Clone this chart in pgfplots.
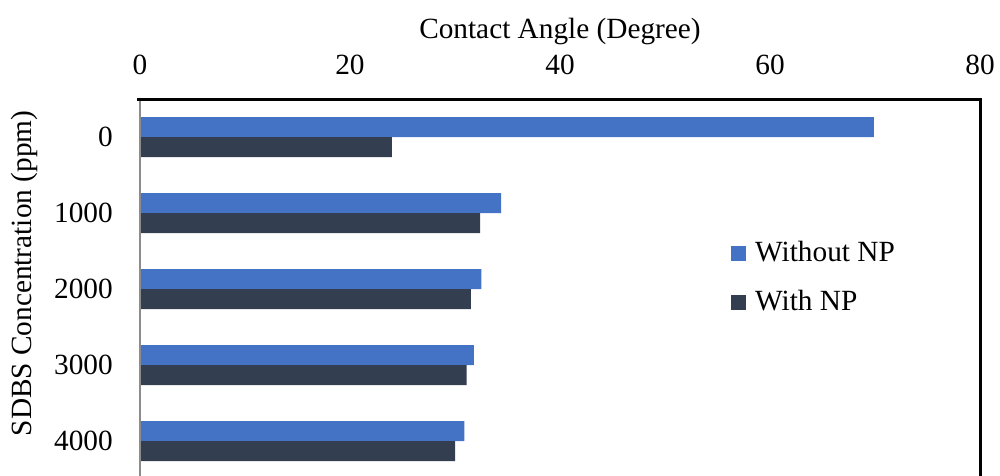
\documentclass[border=0pt]{standalone}
\usepackage{pgfplots}
\pgfplotsset{compat=1.18}
\usepackage{fontspec}
\setmainfont{Liberation Serif}
\definecolor{cblue}{HTML}{4472C4}
\definecolor{cdark}{HTML}{333F50}
\newcommand{\bigf}{\fontsize{29.3}{35}\selectfont}
\begin{document}
\begin{tikzpicture}
\begin{axis}[
  name=ax,
  scale only axis,
  width=840pt, height=380pt,
  xbar,
  bar width=20pt,
  xmin=0, xmax=80,
  ymin=-0.5, ymax=4.5,
  xtick={0,20,40,60,80},
  ytick={0,1,2,3,4},
  yticklabels={4000,3000,2000,1000,0},
  xticklabel pos=upper,
  axis line style={draw=none},
  major tick length=0pt,
  tick style={draw=none},
  clip=false,
  /pgf/number format/assume math mode=true,
  ticklabel style={font=\bigf},
  xticklabel style={anchor=base, inner sep=0pt, yshift=25pt},
  yticklabel style={anchor=east, inner sep=0pt, xshift=-27pt},
  xlabel={Contact Angle (Degree)},
  ylabel={SDBS Concentration (ppm)},
  every axis x label/.style={at={(axis description cs:0.5,1)}, anchor=base, yshift=61pt, font=\bigf},
  every axis y label/.style={at={(axis description cs:-0.128571,0.540789)}, rotate=90, anchor=base, font=\bigf},
  legend image code/.code={\fill[#1] (0pt,0pt) rectangle (15pt,15pt);},
  legend style={at={(axis description cs:0.703571,0.626316)}, anchor=north west,
    draw=none, fill=none, inner sep=0pt, row sep=29pt, font=\bigf,
    cells={anchor=base west},
    nodes={inner sep=0pt, text height=20pt, text depth=0pt},
    /tikz/every odd column/.append style={column sep=9pt}},
]
\addplot[fill=cblue, draw=none, bar shift=10pt] table[x=wo, y=y] {
y wo
4 69.9
3 34.4
2 32.5
1 31.8
0 30.9
};
\addlegendentry{Without NP}
\addplot[fill=cdark, draw=none, bar shift=-10pt] table[x=w, y=y] {
y w
4 24.0
3 32.4
2 31.5
1 31.1
0 30.0
};
\addlegendentry{With NP}
\end{axis}
\draw[black!45, line width=1.3pt] (ax.south west) -- (ax.north west);
\draw[black, line width=3pt, line join=miter] ([xshift=-3pt]ax.north west) -- (ax.north east) -- (ax.south east) -- (ax.south west);
\pgfresetboundingbox
\path[use as bounding box] ([shift={(-140pt,4pt)}]ax.south west) rectangle ([shift={(860pt,479pt)}]ax.south west);
\end{tikzpicture}
\end{document}
